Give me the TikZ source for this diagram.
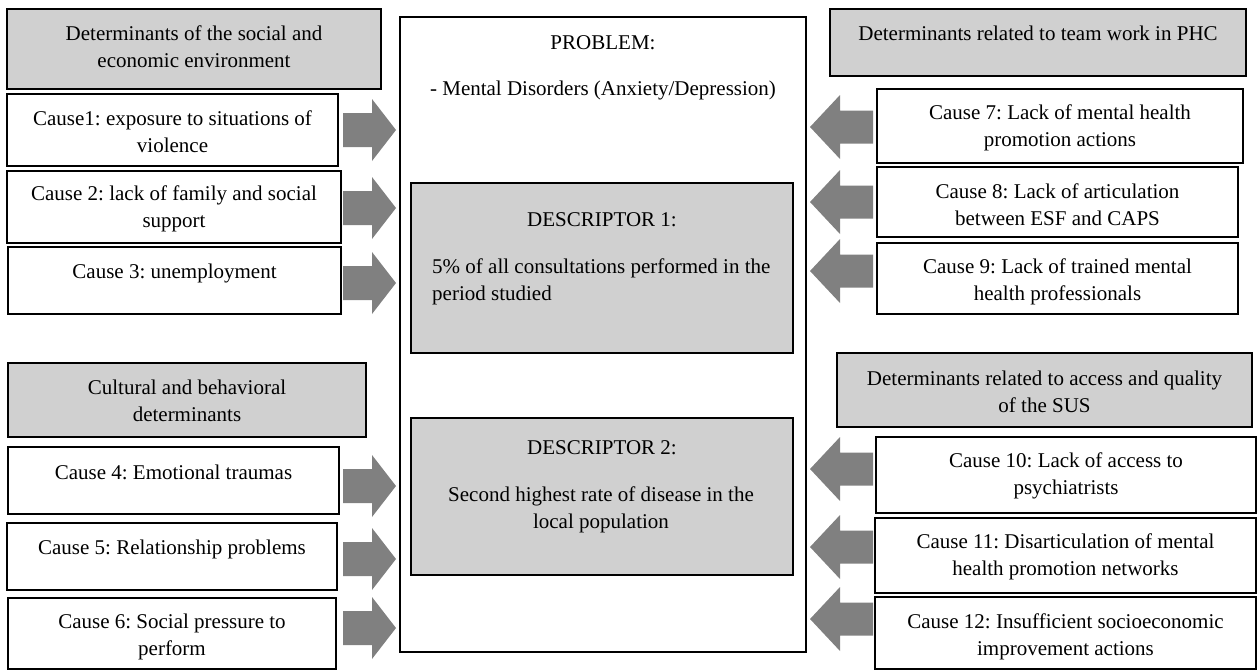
\documentclass[tikz,border=0pt]{standalone}
\usepackage{fontspec}
\setmainfont{Liberation Serif}
\frenchspacing
\definecolor{boxgray}{HTML}{D0D0D0}
\definecolor{arrgray}{HTML}{808080}
\tikzset{
  wbox/.style={draw=black, line width=2pt, fill=white, inner sep=0pt, outer sep=0pt},
  gbox/.style={wbox, fill=boxgray},
  txt/.style={font=\fontsize{21}{27}\selectfont\frenchspacing, align=center, inner sep=0pt, text=black},
  rarr/.pic={\fill[arrgray] (0,-17) -- (29,-17) -- (29,-31) -- (53,0) -- (29,31) -- (29,17) -- (0,17) -- cycle;},
  larr/.pic={\fill[arrgray] (0,-16.5) -- (-33,-16.5) -- (-33,-32) -- (-63,0) -- (-33,32) -- (-33,16.5) -- (0,16.5) -- cycle;}
}
\newcommand\mybox[6]{\node[#6, minimum width={(#4-#2)*1pt}, minimum height={(#5-#3)*1pt}] (#1) at ({(#2+#4)/2},{(#3+#5)/2}) {};}
\begin{document}
\begin{tikzpicture}[x=1pt,y=-1pt]
\useasboundingbox (0,0) rectangle (1258,670);
% centre
\mybox{prob}{400}{17}{806}{652}{wbox}
\node[txt] (probt) at (603,43) {PROBLEM:};
\node[txt] (probm) at (603,90) {- Mental Disorders (Anxiety/Depression)};
\mybox{d1}{411}{183}{793}{353}{gbox}
\node[txt] (d1t) at (602,220) {DESCRIPTOR 1:};
\node[txt, align=left, anchor=west] (d1b) at (432,281.5) {5\% of all consultations performed in the\\period studied};
\mybox{d2}{411}{418}{793}{575}{gbox}
\node[txt] (d2t) at (602,448) {DESCRIPTOR 2:};
\node[txt] (d2b) at (601,509.5) {Second highest rate of disease in the\\local population};
% left
\mybox{h1}{7}{9}{381}{89}{gbox}
\node[txt] (h1t) at (194,46.5) {Determinants of the social and\\economic environment};
\mybox{c1}{7}{94}{338}{166}{wbox}
\node[txt] (c1t) at (172.5,131.5) {Cause1: exposure to situations of\\violence};
\mybox{c2}{7}{171}{341}{243}{wbox}
\node[txt] (c2t) at (174,209) {Cause 2: lack of family and social\\support};
\mybox{c3}{8}{247}{341}{314}{wbox}
\node[txt] (c3t) at (174.5,273) {Cause 3: unemployment};
\mybox{h2}{8}{363}{366}{437}{gbox}
\node[txt] (h2t) at (187,401) {Cultural and behavioral\\determinants};
\mybox{c4}{8}{447}{339}{514}{wbox}
\node[txt] (c4t) at (173.5,472) {Cause 4: Emotional traumas};
\mybox{c5}{7}{523}{337}{590}{wbox}
\node[txt] (c5t) at (172,549) {Cause 5: Relationship problems};
\mybox{c6}{8}{598}{336}{669}{wbox}
\node[txt] (c6t) at (172,636.5) {Cause 6: Social pressure to\\perform};
% right
\mybox{h3}{830}{9}{1246}{76}{gbox}
\node[txt] (h3t) at (1038,33) {Determinants related to team work in PHC};
\mybox{c7}{877}{89}{1243}{163}{wbox}
\node[txt] (c7t) at (1060,128) {Cause 7: Lack of mental health\\promotion actions};
\mybox{c8}{877}{167}{1238}{237}{wbox}
\node[txt] (c8t) at (1057.5,205) {Cause 8: Lack of articulation\\between ESF and CAPS};
\mybox{c9}{877}{243}{1238}{314}{wbox}
\node[txt] (c9t) at (1057.5,281.5) {Cause 9: Lack of trained mental\\health professionals};
\mybox{h4}{837}{353}{1252}{427}{gbox}
\node[txt] (h4t) at (1044.5,391.5) {Determinants related to access and quality\\of the SUS};
\mybox{c10}{876}{437}{1256}{513}{wbox}
\node[txt] (c10t) at (1066,475.5) {Cause 10: Lack of access to\\psychiatrists};
\mybox{c11}{875}{518}{1256}{593}{wbox}
\node[txt] (c11t) at (1065.5,556.5) {Cause 11: Disarticulation of mental\\health promotion networks};
\mybox{c12}{875}{597}{1256}{669}{wbox}
\node[txt] (c12t) at (1065.5,636.5) {Cause 12: Insufficient socioeconomic\\improvement actions};
% arrows
\foreach \yy in {130,208,283,486,559,628} {\pic at (343,\yy) {rarr};}
\foreach \yy in {127,202,271,469,547,619} {\pic at (873,\yy) {larr};}
\end{tikzpicture}
\end{document}
